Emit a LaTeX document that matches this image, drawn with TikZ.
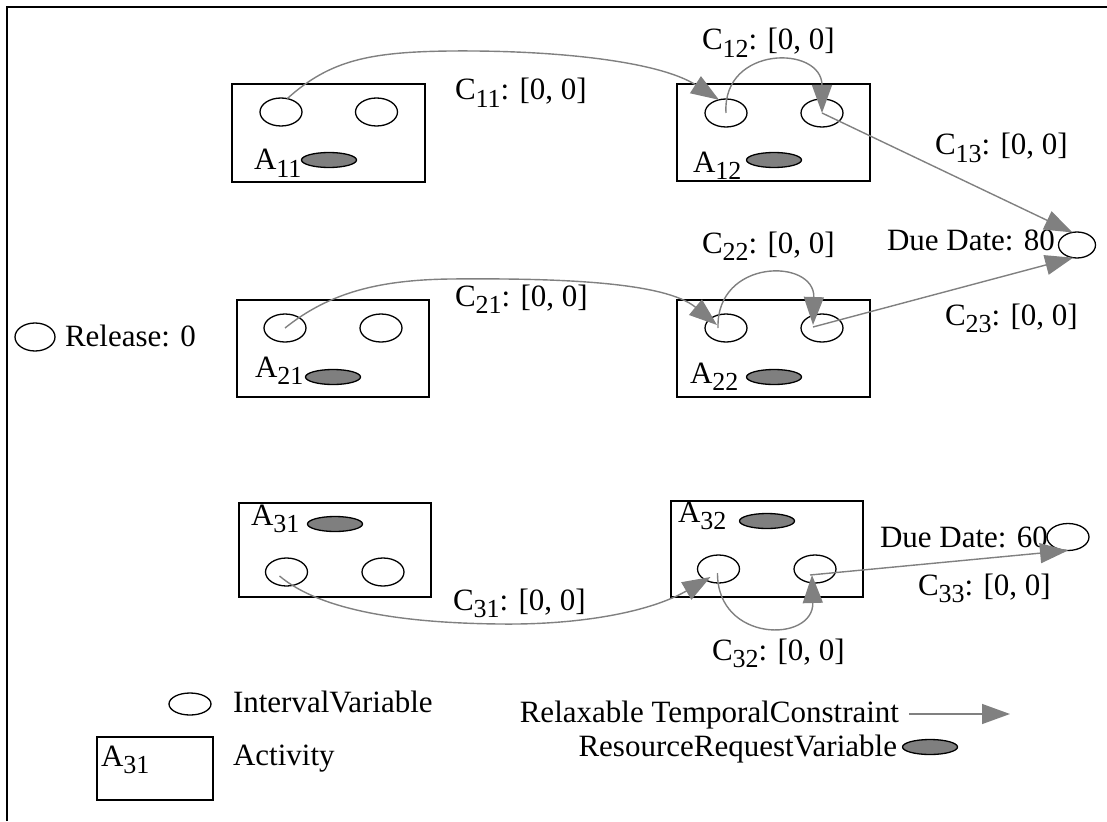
\documentclass[tikz,border=0pt]{standalone}
\usepackage{fontspec}
\setmainfont{Liberation Serif}
\usetikzlibrary{arrows.meta,shapes.geometric,calc}
\definecolor{cgray}{HTML}{808080}
\definecolor{rrgray}{HTML}{7F7F7F}
\newcommand\sbs[1]{\raisebox{-7.5pt}{\fontsize{26}{26}\selectfont #1}}
\begin{document}
\begin{tikzpicture}[x=1pt,y=-1pt,
  every node/.style={font=\fontsize{31}{36}\selectfont, inner sep=0pt, outer sep=0pt},
  ivar/.style={draw, ellipse, minimum width=42pt, minimum height=28pt, line width=1.3pt},
  rvar/.style={draw, ellipse, fill=rrgray, minimum width=55pt, minimum height=15pt, line width=1.3pt},
  actbox/.style={draw, rectangle, line width=2.6pt},
  actthin/.style={draw, rectangle, line width=1.4pt},
  conn/.style={draw=cgray, line width=1.4pt, -{Triangle[length=28pt,width=20pt]}},
  lbl/.style={anchor=base west},
  lblr/.style={anchor=base east}]
\useasboundingbox (0,0) rectangle (1107,821);
\draw[line width=2.2pt] (7,821) -- (7,7) -- (1107,7);

% activity boxes
\node[actbox, minimum width=193pt, minimum height=98pt] (A11) at (328.5,133) {};
\node[actbox, minimum width=193pt, minimum height=97pt] (A12) at (773.5,132.5) {};
\node[actbox, minimum width=192pt, minimum height=97pt] (A21) at (333,348.5) {};
\node[actbox, minimum width=193pt, minimum height=97pt] (A22) at (773.5,348.5) {};
\node[actthin, minimum width=192pt, minimum height=94pt] (A31) at (335,550) {};
\node[actthin, minimum width=192pt, minimum height=96pt] (A32) at (767,549) {};

% interval variables
\node[ivar] (a11l) at (281,112) {};
\node[ivar] (a11r) at (376.5,112) {};
\node[ivar] (a12l) at (726,113) {};
\node[ivar] (a12r) at (822,113) {};
\node[ivar] (a21l) at (285,328) {};
\node[ivar] (a21r) at (381,328) {};
\node[ivar] (a22l) at (726,328) {};
\node[ivar] (a22r) at (822,328) {};
\node[ivar] (a31l) at (286.5,572) {};
\node[ivar] (a31r) at (383,572) {};
\node[ivar] (a32l) at (718.5,569) {};
\node[ivar] (a32r) at (815,569) {};
\node[ivar, minimum width=40pt] (rel) at (35,337) {};
\node[ivar, minimum width=37pt, minimum height=26pt] (due80) at (1077,245) {};
\node[ivar, minimum width=42pt, minimum height=27pt] (due60) at (1068,537) {};

% resource request variables
\node[rvar] (r11) at (329,160) {};
\node[rvar] (r12) at (774,160) {};
\node[rvar] (r21) at (333,377) {};
\node[rvar] (r22) at (774,377) {};
\node[rvar] (r31) at (335,524) {};
\node[rvar] (r32) at (767,521) {};

% activity labels
\node[lbl] (t11) at (254,170) {A\sbs{11}};
\node[lbl] (t12) at (693,172) {A\sbs{12}};
\node[lbl] (t21) at (255,377) {A\sbs{21}};
\node[lbl] (t22) at (690,383) {A\sbs{22}};
\node[lbl] (t31) at (251,525) {A\sbs{31}};
\node[lbl] (t32) at (678,522) {A\sbs{32}};

% constraint labels
\node[lbl] (lc11) at (455,100) {C\sbs{11}: [0, 0]};
\node[lbl] (lc12) at (702,50) {C\sbs{12}: [0, 0]};
\node[lbl] (lc13) at (935,155) {C\sbs{13}: [0, 0]};
\node[lbl] (lc21) at (455,306) {C\sbs{21}: [0, 0]};
\node[lbl] (lc22) at (702,253) {C\sbs{22}: [0, 0]};
\node[lbl] (lc23) at (945,325) {C\sbs{23}: [0, 0]};
\node[lbl] (lc31) at (453,610) {C\sbs{31}: [0, 0]};
\node[lbl] (lc32) at (712,660) {C\sbs{32}: [0, 0]};
\node[lbl] (lc33) at (918,595) {C\sbs{33}: [0, 0]};
\node[lbl] (ld80) at (887,250) {Due Date: 80};
\node[lbl] (ld60) at (880,547) {Due Date: 60};
\node[lbl] (lrel) at (65,346) {Release: 0};

% connectors
\draw[conn] (a11l.65) .. controls (330,60) and (370,52) .. (450,51)
  .. controls (560,50) and (660,62) .. (a12l.118);
\draw[conn] (a12l.center) .. controls (722,45) and (822,45) .. (a12r.center);
\draw[conn] (a12r.center) -- (due80.110);
\draw[conn] (a21l.center) .. controls (330,292) and (380,280) .. (450,279)
  .. controls (560,278) and (665,282) .. ($(a22l.center)+(-9,-3)$);
\draw[conn] ($(a22l.center)+(-8,0)$) .. controls (716,258) and (815,258) .. ($(a22r.center)+(-9,-3)$);
\draw[conn] ($(a22r.center)+(-9,-1)$) -- (due80.253);
\draw[conn] ($(a31l.center)+(-7,4)$) .. controls (320,610) and (400,623) .. (500,624)
  .. controls (580,625) and (650,612) .. ($(a32l.center)+(-8,8)$);
\draw[conn] ($(a32l.center)+(-1,4)$) .. controls (717,643) and (814,643) .. ($(a32r.center)+(-3,6)$);
\draw[conn] ($(a32r.center)+(-5,6)$) -- (due60.south);

% legend
\node[ivar, minimum height=22pt] (lgi) at (190,704) {};
\node[lbl] (lgit) at (233,712) {IntervalVariable};
\node[actthin, minimum width=116pt, minimum height=63pt] (lgb) at (155,768.5) {};
\node[lbl] (lgbt) at (101,766) {A\sbs{31}};
\node[lbl] (lgat) at (233,765) {Activity};
\node[lblr] (lgct) at (899,722) {Relaxable TemporalConstraint};
\coordinate (lgs) at (909,714);
\coordinate (lge) at (1010,714);
\draw[conn] (lgs) -- (lge);
\node[lblr] (lgrt) at (897,756) {ResourceRequestVariable};
\node[rvar] (lgr) at (930,747) {};
\end{tikzpicture}
\end{document}
